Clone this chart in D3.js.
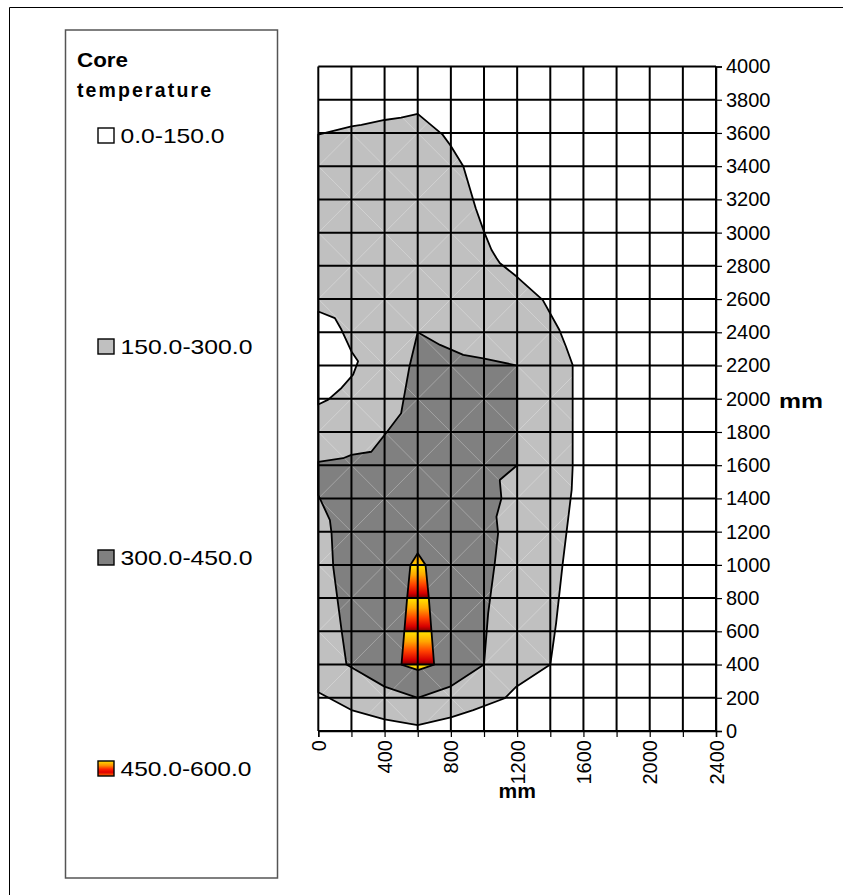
<!DOCTYPE html>
<html>
<head>
<meta charset="utf-8">
<script src="https://cdn.jsdelivr.net/npm/d3@7"></script>
<style>
  html, body { margin: 0; padding: 0; background: #fff; }
  svg { display: block; }
  text { font-family: "Liberation Sans", Arial, sans-serif; fill: #000; }
</style>
</head>
<body>
<svg id="chart" width="843" height="895"></svg>
<script>
// ---------------- DATA ----------------
const legendTitle = ["Core", "temperature"];
const bandLabels = ["0.0-150.0", "150.0-300.0", "300.0-450.0", "450.0-600.0"];
const bandColors = ["#ffffff", "#c0c0c0", "#808080", "url(#legGrad)"];

const xGrid = [0, 200, 400, 600, 800, 1000, 1200, 1400, 1600, 1800, 2000, 2200, 2400];
const yGrid = [0, 200, 400, 600, 800, 1000, 1200, 1400, 1600, 1800, 2000, 2200, 2400, 2600, 2800, 3000, 3200, 3400, 3600, 3800, 4000];
const xTickLabels = [0, 400, 800, 1200, 1600, 2000, 2400];
const yTickLabels = [0, 200, 400, 600, 800, 1000, 1200, 1400, 1600, 1800, 2000, 2200, 2400, 2600, 2800, 3000, 3200, 3400, 3600, 3800, 4000];

// contour boundaries, [x mm, y mm]
const band150 = [[0,3590],[200,3640],[260,3648],[400,3678],[500,3692],[600,3715],[750,3590],[800,3522],[875,3400],
  [950,3147],[1000,3006],[1045,2897],[1075,2847],[1095,2817],[1195,2737],[1355,2594],[1455,2414],[1495,2313],[1535,2203],
  [1535,1591],[1529,1451],[1475,1009],[1435,648],[1400,400],[1195,267],[1125,197],[935,126],[800,82],[600,36],
  [400,70],[200,126],[0,233]];
const hole150 = [[0,2525],[100,2485],[140,2415],[200,2285],[240,2225],[210,2145],[140,2065],[60,1995],[0,1965]];
const band300 = [[0,1620],[150,1642],[200,1662],[320,1681],[400,1782],[500,1913],[550,2193],[600,2400],[735,2324],
  [875,2264],[995,2243],[1200,2200],[1200,1600],[1095,1511],[1105,1400],[1075,1290],[1085,1190],[1065,1010],
  [1025,708],[1000,400],[795,267],[600,200],[400,267],[170,400],[140,608],[90,990],[80,1190],[70,1270],[0,1420]];
const band450 = [[600,1070],[647,1000],[667,800],[699,400],[602,367],[502,400],[536,800],[556,1000]];
const flameRows = [[200,400],[400,600],[600,800],[800,1000],[1000,1200]];

// ---------------- DRAW ----------------
const svg = d3.select("#chart");
const x = d3.scaleLinear().domain([0, 2400]).range([318.3, 716]);
const y = d3.scaleLinear().domain([0, 4000]).range([731, 66.5]);
const line = d3.line().x(d => x(d[0])).y(d => y(d[1])).curve(d3.curveLinearClosed);

const defs = svg.append("defs");
function grad(id, stops) {
  const g = defs.append("linearGradient").attr("id", id).attr("x1", 0).attr("y1", 0).attr("x2", 0).attr("y2", 1);
  stops.forEach(s => g.append("stop").attr("offset", s[0]).attr("stop-color", s[1]));
}
grad("rowGrad", [[0,"#ffe600"],[0.3,"#ffa800"],[0.6,"#ff4000"],[0.85,"#d80000"],[1,"#780000"]]);
grad("topGrad", [[0,"#e00000"],[0.25,"#ff2000"],[0.5,"#ff7000"],[0.75,"#ffa000"],[1,"#ffcc00"]]);
grad("legGrad", [[0,"#ffe000"],[0.3,"#ff9000"],[0.55,"#ff2000"],[0.75,"#e00000"],[1,"#ff7000"]]);
defs.append("clipPath").attr("id", "flameClip").append("path").attr("d", line(band450));

// outer chart border (top & left visible)
svg.append("line").attr("x1", 9.5).attr("y1", 7.5).attr("x2", 843).attr("y2", 7.5).attr("stroke", "#000").attr("stroke-width", 1);
svg.append("line").attr("x1", 9.5).attr("y1", 7.5).attr("x2", 9.5).attr("y2", 895).attr("stroke", "#000").attr("stroke-width", 1);

// legend
const leg = svg.append("g");
leg.append("rect").attr("x", 65.5).attr("y", 30).attr("width", 212).attr("height", 848)
  .attr("fill", "#fff").attr("stroke", "#555").attr("stroke-width", 1.5);
leg.append("text").attr("x", 77).attr("y", 66.5).attr("font-size", 19.5).attr("font-weight", "bold")
  .attr("textLength", 51).attr("lengthAdjust", "spacingAndGlyphs").text(legendTitle[0]);
leg.append("text").attr("x", 77).attr("y", 96.5).attr("font-size", 19.5).attr("font-weight", "bold")
  .attr("textLength", 134).attr("lengthAdjust", "spacing").text(legendTitle[1]);
const legY = [143, 354, 565, 776];
const legW = [104, 132, 132, 131];
bandLabels.forEach((lab, i) => {
  leg.append("rect").attr("x", 98).attr("y", legY[i] - 15).attr("width", 16).attr("height", 15)
    .attr("fill", bandColors[i]).attr("stroke", "#000").attr("stroke-width", 1.4);
  leg.append("text").attr("x", 120.5).attr("y", legY[i]).attr("font-size", 21)
    .attr("textLength", legW[i]).attr("lengthAdjust", "spacingAndGlyphs").text(lab);
});

// plot area
const plot = svg.append("g");
plot.append("path").attr("d", line(band150)).attr("fill", "#c0c0c0");
plot.append("path").attr("d", line(hole150)).attr("fill", "#ffffff");
plot.append("path").attr("d", line(band300)).attr("fill", "#808080");

// faint triangulation diagonals
const diag = plot.append("g").attr("stroke", "#ffffff").attr("stroke-opacity", 0.35).attr("stroke-width", 0.8);
for (let i = 0; i < xGrid.length - 1; i++) {
  for (let j = 0; j < yGrid.length - 1; j++) {
    const x0 = xGrid[i], x1 = xGrid[i + 1], y0 = yGrid[j], y1 = yGrid[j + 1];
    if ((i + j) % 2 === 1) diag.append("line").attr("x1", x(x0)).attr("y1", y(y0)).attr("x2", x(x1)).attr("y2", y(y1));
    else diag.append("line").attr("x1", x(x0)).attr("y1", y(y1)).attr("x2", x(x1)).attr("y2", y(y0));
  }
}

// flame band
const fl = plot.append("g").attr("clip-path", "url(#flameClip)");
flameRows.forEach((r, k) => {
  fl.append("rect").attr("x", x(400)).attr("width", x(800) - x(400))
    .attr("y", y(r[1])).attr("height", y(r[0]) - y(r[1]))
    .attr("fill", k === flameRows.length - 1 ? "url(#topGrad)" : "url(#rowGrad)");
});

// contour outlines
[band150, hole150, band300, band450].forEach(b => {
  plot.append("path").attr("d", line(b)).attr("fill", "none").attr("stroke", "#000")
    .attr("stroke-width", 1.8).attr("stroke-linejoin", "round");
});

// gridlines
const grid = plot.append("g").attr("stroke", "#000").attr("stroke-width", 2);
xGrid.forEach(v => grid.append("line").attr("x1", x(v)).attr("x2", x(v)).attr("y1", y(0)).attr("y2", y(4000)));
yGrid.forEach(v => grid.append("line").attr("x1", x(0)).attr("x2", x(2400)).attr("y1", y(v)).attr("y2", y(v)));

// right y axis
const yAxis = d3.axisRight(y).tickValues(yTickLabels).tickSize(6).tickPadding(4).tickFormat(d3.format("d"));
const gy = svg.append("g").attr("transform", `translate(${x(2400)},0)`).call(yAxis);
gy.select(".domain").attr("stroke", "#000").attr("stroke-width", 1.5);
gy.selectAll(".tick line").attr("stroke", "#000").attr("stroke-width", 1.2);
gy.selectAll(".tick text").attr("font-size", 20).attr("font-family", "Liberation Sans, Arial, sans-serif").attr("fill", "#000");

// bottom x axis
const xAxis = d3.axisBottom(x).tickValues(xGrid).tickSize(6).tickFormat(d => xTickLabels.includes(d) ? d : "");
const gx = svg.append("g").attr("transform", `translate(0,${y(0)})`).call(xAxis);
gx.select(".domain").attr("stroke", "#000").attr("stroke-width", 1.5);
gx.selectAll(".tick line").attr("stroke", "#000").attr("stroke-width", 1.2);
gx.selectAll(".tick text").attr("font-size", 20).attr("font-family", "Liberation Sans, Arial, sans-serif").attr("fill", "#000")
  .attr("transform", "rotate(-90)").attr("text-anchor", "end").attr("x", -9).attr("y", 0).attr("dy", "0.35em");

// axis titles
svg.append("text").attr("x", (x(0) + x(2400)) / 2).attr("y", 798).attr("text-anchor", "middle")
  .attr("font-size", 21).attr("font-weight", "bold").text("mm");
svg.append("text").attr("x", 779).attr("y", 408).attr("font-size", 21).attr("font-weight", "bold")
  .attr("textLength", 44).attr("lengthAdjust", "spacingAndGlyphs").text("mm");
</script>
</body>
</html>
